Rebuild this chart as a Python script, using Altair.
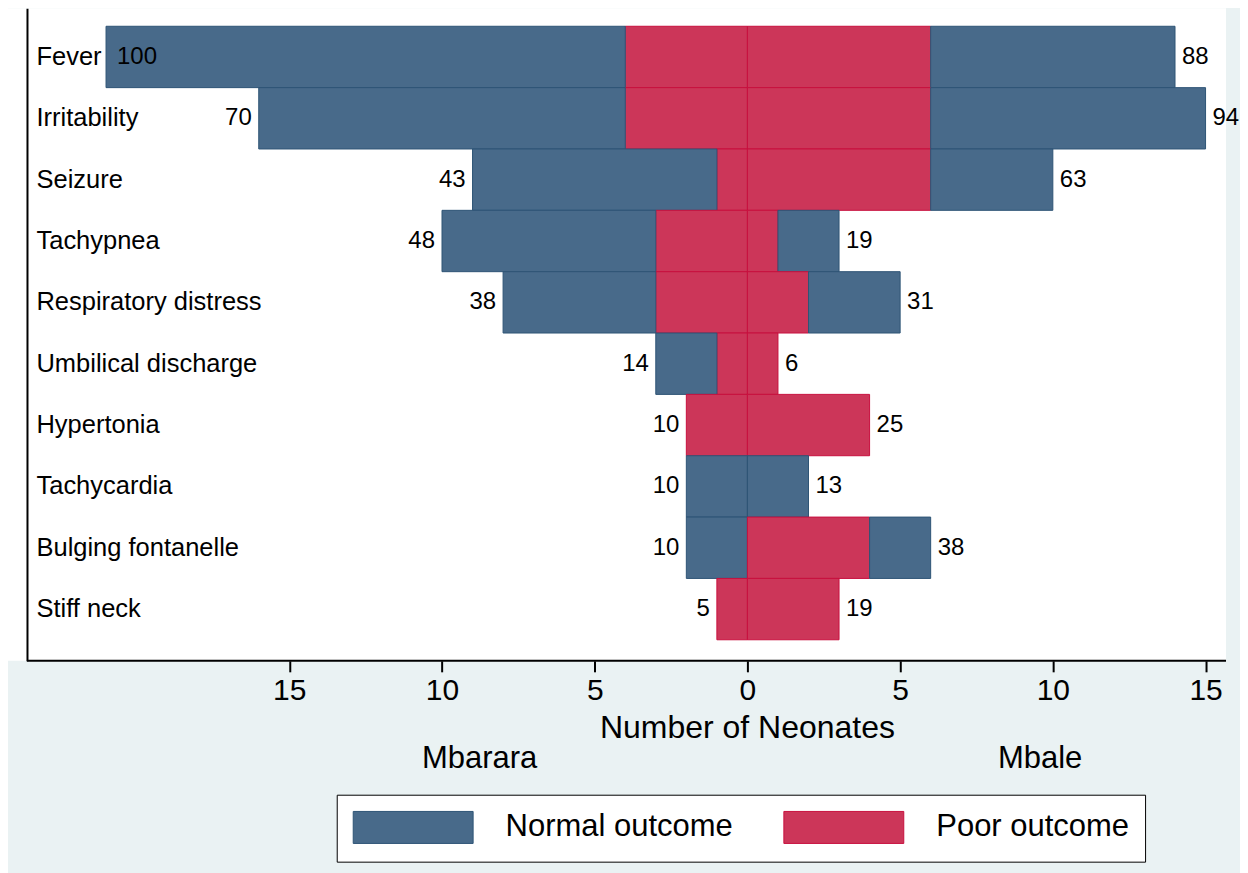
import altair as alt
import pandas as pd

symptoms = ["Fever", "Irritability", "Seizure", "Tachypnea", "Respiratory distress",
            "Umbilical discharge", "Hypertonia", "Tachycardia", "Bulging fontanelle", "Stiff neck"]
mbarara_poor = [4, 4, 1, 3, 3, 1, 2, 0, 0, 1]
mbarara_normal = [17, 12, 8, 7, 5, 2, 0, 2, 2, 0]
mbale_poor = [6, 6, 6, 1, 2, 1, 4, 0, 4, 3]
mbale_normal = [8, 9, 4, 2, 3, 0, 0, 2, 2, 0]
mbarara_labels = [100, 70, 43, 48, 38, 14, 10, 10, 10, 5]
mbale_labels = [88, 94, 63, 19, 31, 6, 25, 13, 38, 19]
outcomes = ["Normal outcome", "Poor outcome"]
fill_colors = ["#486A8A", "#CC3659"]
stroke_colors = ["#2E5475", "#C8103E"]
x_ticks = [-15, -10, -5, 0, 5, 10, 15]
x_domain = [-24.21, 15.67]
axis_start = -23.59

FONT = "Liberation Sans"
W, H = 1219, 653

# bar segments
rows = []
for i, s in enumerate(symptoms):
    lp, ln = mbarara_poor[i], mbarara_normal[i]
    rp, rn = mbale_poor[i], mbale_normal[i]
    if lp > 0:
        rows.append(dict(symptom=s, outcome="Poor outcome", x0=0, x1=-lp))
    if ln > 0:
        rows.append(dict(symptom=s, outcome="Normal outcome", x0=-lp, x1=-(lp + ln)))
    if rp > 0:
        rows.append(dict(symptom=s, outcome="Poor outcome", x0=0, x1=rp))
    if rn > 0:
        rows.append(dict(symptom=s, outcome="Normal outcome", x0=rp, x1=rp + rn))
bars_df = pd.DataFrame(rows)

left_df = pd.DataFrame({
    "symptom": symptoms,
    "x": [-(p + n) for p, n in zip(mbarara_poor, mbarara_normal)],
    "label": [str(v) for v in mbarara_labels],
})
right_df = pd.DataFrame({
    "symptom": symptoms,
    "x": [p + n for p, n in zip(mbale_poor, mbale_normal)],
    "label": [str(v) for v in mbale_labels],
})

x_scale = alt.Scale(domain=x_domain, nice=False, zero=False)
y_scale = alt.Scale(domain=symptoms, paddingInner=0, paddingOuter=0.3176, align=0.46)

x_axis = alt.Axis(
    values=x_ticks, labelExpr="abs(datum.value)", title=None, grid=False,
    domain=False, ticks=True, tickSize=11, tickWidth=2, tickColor="black",
    labelFont=FONT, labelFontSize=30, labelColor="black", labelPadding=4,
    labelFlush=False, labelOverlap=False,
)
y_axis = alt.Axis(
    title=None, orient="left", offset=-19, ticks=False, tickSize=0,
    domain=True, domainColor="black", domainWidth=2,
    labelAlign="left", labelPadding=-9, labelFont=FONT, labelFontSize=25.5,
    labelColor="black", labelLimit=400, grid=False,
)

bars = alt.Chart(bars_df).mark_bar(strokeWidth=1, opacity=1).encode(
    x=alt.X("x0:Q", scale=x_scale, axis=x_axis),
    x2="x1:Q",
    y=alt.Y("symptom:N", scale=y_scale, axis=y_axis, sort=symptoms),
    color=alt.Color(
        "outcome:N",
        scale=alt.Scale(domain=outcomes, range=fill_colors),
        legend=alt.Legend(
            title=None, orient="none", legendX=329, legendY=787,
            direction="horizontal",
            symbolType="M-1,-1L6.5,-1L6.5,1L-1,1Z",
            symbolSize=1024, symbolStrokeWidth=1, symbolOpacity=1,
            labelFont=FONT, labelFontSize=31, labelColor="black",
            labelOffset=120, columnPadding=48, padding=16,
            strokeColor="black", fillColor="white", labelLimit=500,
        ),
    ),
    stroke=alt.Stroke("outcome:N", scale=alt.Scale(domain=outcomes, range=stroke_colors), legend=None),
)

axis_line = alt.Chart(pd.DataFrame({"a": [0]})).mark_rule(color="black", strokeWidth=2).encode(
    x=alt.datum(axis_start), x2=alt.datum(x_domain[1]), y=alt.value(H)
)

left_lbl = alt.Chart(left_df).transform_filter("datum.symptom != 'Fever'").mark_text(
    align="right", baseline="middle", dx=-7, font=FONT, fontSize=24, color="black"
).encode(x="x:Q", y=alt.Y("symptom:N", sort=symptoms), text="label:N")

left_lbl_in = alt.Chart(left_df).transform_filter("datum.symptom == 'Fever'").mark_text(
    align="left", baseline="middle", dx=11, font=FONT, fontSize=24, color="black"
).encode(x="x:Q", y=alt.Y("symptom:N", sort=symptoms), text="label:N")

right_lbl = alt.Chart(right_df).mark_text(
    align="left", baseline="middle", dx=7, font=FONT, fontSize=24, color="black"
).encode(x="x:Q", y=alt.Y("symptom:N", sort=symptoms), text="label:N")

title_txt = alt.Chart(pd.DataFrame({"t": ["Number of Neonates"]})).mark_text(
    align="center", baseline="alphabetic", font=FONT, fontSize=32, color="black"
).encode(x=alt.datum(0), y=alt.value(730), text="t:N")

site_df = pd.DataFrame({"t": ["Mbarara", "Mbale"], "px": [472, 1033]})
site_txt = alt.Chart(site_df).mark_text(
    align="center", baseline="alphabetic", font=FONT, fontSize=31, color="black"
).encode(x=alt.X("px:Q", scale=None), y=alt.value(760), text="t:N")

chart = alt.layer(bars, axis_line, left_lbl, left_lbl_in, right_lbl, title_txt, site_txt).properties(
    width=W, height=H, background="#EAF2F3",
    padding={"left": 0, "top": 0, "right": 0, "bottom": 15},
).configure_view(fill="white", stroke=None)

chart.save("out.html", embed_options={"renderer": "svg", "actions": False})
